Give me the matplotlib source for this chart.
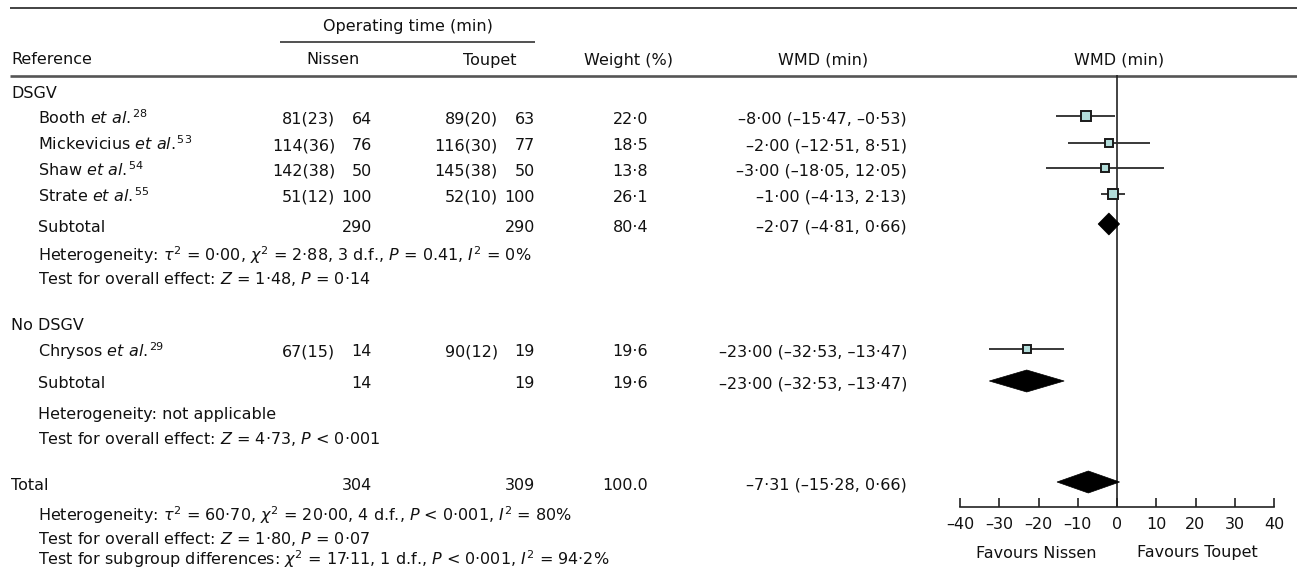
import matplotlib
matplotlib.use('Agg')
import matplotlib.pyplot as plt
from matplotlib.patches import Polygon
import numpy as np

plt.rcParams['font.family'] = ['DejaVu Sans']
plt.rcParams['mathtext.fontset'] = 'dejavusans'

# ---------------- data ----------------
group1_name = 'DSGV'
group2_name = 'No DSGV'
studies = ['Booth', 'Mickevicius', 'Shaw', 'Strate', 'Chrysos']
study_refs = [28, 53, 54, 55, 29]
study_group = [1, 1, 1, 1, 2]
nissen_mean = [81, 114, 142, 51, 67]
nissen_sd = [23, 36, 38, 12, 15]
nissen_n = [64, 76, 50, 100, 14]
toupet_mean = [89, 116, 145, 52, 90]
toupet_sd = [20, 30, 38, 10, 12]
toupet_n = [63, 77, 50, 100, 19]
weights = [22.0, 18.5, 13.8, 26.1, 19.6]
wmd = [-8.00, -2.00, -3.00, -1.00, -23.00]
wmd_lo = [-15.47, -12.51, -18.05, -4.13, -32.53]
wmd_hi = [-0.53, 8.51, 12.05, 2.13, -13.47]

# subtotal / total rows: DSGV, No DSGV, Total
sum_labels = ['Subtotal', 'Subtotal', 'Total']
sum_nissen_n = [290, 14, 304]
sum_toupet_n = [290, 19, 309]
sum_weight = ['80·4', '19·6', '100.0']
sum_wmd = [-2.07, -23.00, -7.31]
sum_lo = [-4.81, -32.53, -15.28]
sum_hi = [0.66, -13.47, 0.66]

het_texts = [
    r'Heterogeneity: $\tau^2$ = 0·00, $\chi^2$ = 2·88, 3 d.f., $P$ = 0.41, $I^2$ = 0%',
    r'Heterogeneity: not applicable',
    r'Heterogeneity: $\tau^2$ = 60·70, $\chi^2$ = 20·00, 4 d.f., $P$ < 0·001, $I^2$ = 80%',
]
effect_texts = [
    r'Test for overall effect: $Z$ = 1·48, $P$ = 0·14',
    r'Test for overall effect: $Z$ = 4·73, $P$ < 0·001',
    r'Test for overall effect: $Z$ = 1·80, $P$ = 0·07',
]
subgroup_text = r'Test for subgroup differences: $\chi^2$ = 17·11, 1 d.f., $P$ < 0·001, $I^2$ = 94·2%'

axis_ticks = [-40, -30, -20, -10, 0, 10, 20, 30, 40]
axis_tick_labels = ['–40', '–30', '–20', '–10', '0', '10', '20', '30', '40']
favours_left = 'Favours Nissen'
favours_right = 'Favours Toupet'

# ---------------- layout ----------------
W, H = 1297, 581
FS = 11.5
TXT = '#111111'
SQ_FILL = '#b2dcd9'

def fmt(v, d=2):
    return f"{v:.{d}f}".replace('-', '–').replace('.', '·')

def wmd_str(e, l, h):
    return f"{fmt(e)} ({fmt(l)}, {fmt(h)})"

fig = plt.figure(figsize=(W / 100, H / 100), dpi=100)
ax = fig.add_axes([0, 0, 1, 1])
ax.set_xlim(0, W)
ax.set_ylim(H, 0)
ax.axis('off')

AX_L, AX_R = 960, 1274
fx = fig.add_axes([AX_L / W, 0, (AX_R - AX_L) / W, 1])
fx.set_xlim(-40, 40)
fx.set_ylim(H, 0)
fx.patch.set_visible(False)

X_REF, X_IND = 11, 38
X_NM, X_NN = 335, 372
X_TM, X_TN = 498, 535
X_W = 648
X_WMD = 907

def t(x, y, s, ha='left', **kw):
    ax.text(x, y + 5.5, s, ha=ha, va='baseline', fontsize=FS, color=TXT, **kw)

# rules
ax.plot([10, W], [8, 8], color='#222222', lw=1.2, solid_capstyle='butt')
ax.plot([280, 535], [42, 42], color='#222222', lw=1.1, solid_capstyle='butt')
ax.plot([10, W], [75.5, 75.5], color='#555555', lw=1.9, solid_capstyle='butt')

# headers
t(408, 25, 'Operating time (min)', ha='center')
t(X_REF, 59, 'Reference')
t(333, 59, 'Nissen', ha='center')
t(490, 59, 'Toupet', ha='center')
t(629, 59, 'Weight (%)', ha='center')
t(823, 59, 'WMD (min)', ha='center')
t(1119, 59, 'WMD (min)', ha='center')

# row positions
study_y = [118, 145, 170, 196, 351]
group_y = [93, 325]
sum_y = [226, 383, 484]
het_y = [256, 414, 516]
eff_y = [278, 438, 538]
subgroup_y = 560
MARK_DY = -2

t(X_REF, group_y[0], group1_name)
t(X_REF, group_y[1], group2_name)

for i, name in enumerate(studies):
    y = study_y[i]
    t(X_IND, y, name + r' $\mathit{et\ al.}^{\!%d}$' % study_refs[i])
    t(X_NM, y, f"{nissen_mean[i]}({nissen_sd[i]})", ha='right')
    t(X_NN, y, f"{nissen_n[i]}", ha='right')
    t(X_TM, y, f"{toupet_mean[i]}({toupet_sd[i]})", ha='right')
    t(X_TN, y, f"{toupet_n[i]}", ha='right')
    t(X_W, y, fmt(weights[i], 1), ha='right')
    t(X_WMD, y, wmd_str(wmd[i], wmd_lo[i], wmd_hi[i]), ha='right')
    ym = y + MARK_DY
    fx.hlines(ym, wmd_lo[i], wmd_hi[i], color='#2a2a2a', lw=1.3, zorder=2)
    side_px = 2 * np.sqrt(weights[i])
    fx.plot(wmd[i], ym, marker='s', ms=side_px * 0.72, mfc=SQ_FILL,
            mec='#1a1a1a', mew=1.4, zorder=3, ls='none')

for j in range(3):
    y = sum_y[j]
    t(X_REF if j == 2 else X_IND, y, sum_labels[j])
    t(X_NN, y, f"{sum_nissen_n[j]}", ha='right')
    t(X_TN, y, f"{sum_toupet_n[j]}", ha='right')
    t(X_W, y, sum_weight[j], ha='right')
    t(X_WMD, y, wmd_str(sum_wmd[j], sum_lo[j], sum_hi[j]), ha='right')
    ym = y + MARK_DY
    hh = 11
    poly = Polygon([(sum_lo[j], ym), (sum_wmd[j], ym - hh), (sum_hi[j], ym),
                    (sum_wmd[j], ym + hh)], closed=True, facecolor='black',
                   edgecolor='black', lw=0.5, zorder=3)
    fx.add_patch(poly)
    t(X_IND, het_y[j], het_texts[j])
    t(X_IND, eff_y[j], effect_texts[j])

t(X_IND, subgroup_y, subgroup_text)

# forest axis
fx.vlines(0, 75, 507, color='#222222', lw=1.2, zorder=1)
for s in ['top', 'left', 'right']:
    fx.spines[s].set_visible(False)
fx.spines['bottom'].set_position(('data', 507))
fx.spines['bottom'].set_linewidth(1.2)
fx.spines['bottom'].set_color('#222222')
fx.set_yticks([])
fx.set_xticks(axis_ticks)
fx.set_xticklabels(axis_tick_labels)
fx.tick_params(axis='x', direction='in', length=9 * 0.72, width=1.2, pad=7,
               labelsize=FS, colors='#222222', labelcolor=TXT)
fx.text(-20.5, 553, favours_left, ha='center', va='center', fontsize=FS, color=TXT)
fx.text(20.5, 553, favours_right, ha='center', va='center', fontsize=FS, color=TXT)

fig.savefig('out.png', dpi=100)
